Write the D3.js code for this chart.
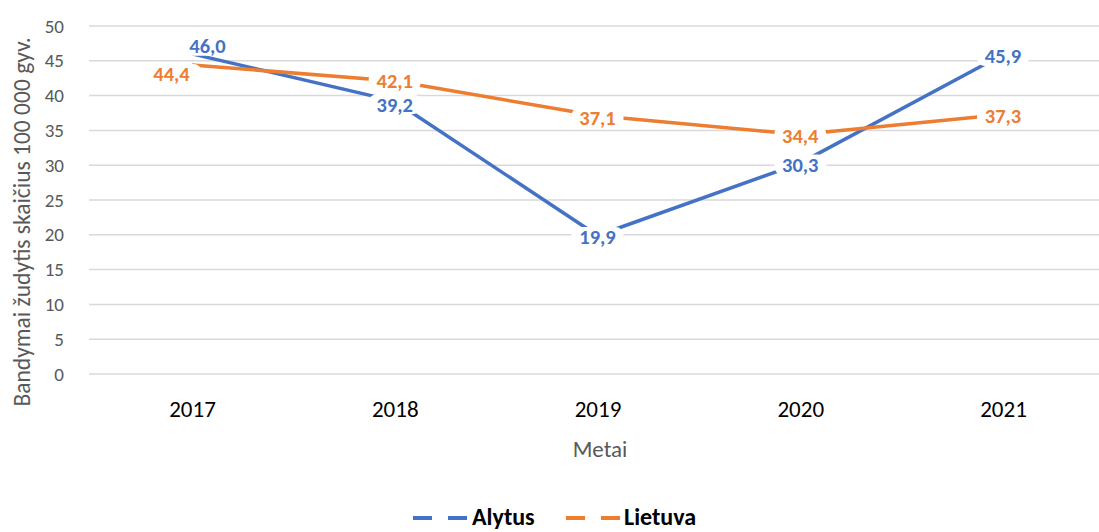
<!DOCTYPE html>
<html><head><meta charset="utf-8">
<script src="https://cdn.jsdelivr.net/npm/d3@7"></script>
<style>body{margin:0;background:#fff}svg{display:block}text{font-family:Carlito,Lato,"Open Sans",sans-serif}</style>
</head><body>
<svg id="c" width="1099" height="532"></svg>
<script>
const years = ["2017","2018","2019","2020","2021"];
const alytus = [46.0, 39.2, 19.9, 30.3, 45.9];
const lietuva = [44.4, 42.1, 37.1, 34.4, 37.3];
const yTicks = [0,5,10,15,20,25,30,35,40,45,50];
const seriesNames = ["Alytus","Lietuva"];
const colors = ["#4472C4","#ED7D31"];

const svg = d3.select("#c");
const x = d3.scalePoint().domain(years).range([192, 1003]);
const y = d3.scaleLinear().domain([0,50]).range([374, 26]);
const FF = "Carlito,Lato,sans-serif";

// gridlines
svg.append("g").selectAll("line").data(yTicks).join("line")
  .attr("x1", 89).attr("x2", 1105)
  .attr("y1", d=>y(d)).attr("y2", d=>y(d))
  .attr("stroke","#d9d9d9").attr("stroke-width",1.5);

// y axis labels
const ya = svg.append("g").attr("transform","translate(64,0)")
  .call(d3.axisLeft(y).tickValues(yTicks).tickSize(0).tickPadding(0));
ya.select(".domain").remove();
ya.selectAll("text").attr("font-size",19).attr("fill","#595959").style("font-family",FF);

// x axis labels
const xa = svg.append("g").attr("transform","translate(0,417)")
  .call(d3.axisBottom(x).tickSize(0).tickPadding(0));
xa.select(".domain").remove();
xa.selectAll("text").attr("font-size",23).attr("fill","#000").attr("y",0).attr("dy",null).style("font-family",FF);

// titles
svg.append("text").attr("x",600).attr("y",457).attr("text-anchor","middle")
  .attr("font-size",23).attr("fill","#595959").text("Metai");
svg.append("text").attr("transform","translate(30,222) rotate(-90)").attr("text-anchor","middle")
  .attr("font-size",23.5).attr("fill","#595959").text("Bandymai žudytis skaičius 100 000 gyv.");

// lines
const line = d3.line().x((d,i)=>x(years[i])).y(d=>y(d));
[alytus, lietuva].forEach((s,k)=>{
  svg.append("path").datum(s).attr("d",line).attr("fill","none")
    .attr("stroke",colors[k]).attr("stroke-width",3.5).attr("stroke-linejoin","round");
});

// labels
const fmt = v => v.toFixed(1).replace(".",",");
const offsets = [
  [[15.5,-8],[0,3],[0,1.5],[0,1.5],[0,1.5]],
  [[-20.5,9],[0,-0.5],[0,1.5],[0,1.5],[0,1.5]]
];
const bg = svg.append("g"), fg = svg.append("g");
[alytus, lietuva].forEach((s,k)=>{
  s.forEach((v,i)=>{
    const cx = x(years[i]) + offsets[k][i][0];
    const cy = y(v) + offsets[k][i][1];
    const w = (k===1&&i===0) ? 60 : 52;
    bg.append("rect").attr("x",cx-w/2).attr("y",cy-10).attr("width",w).attr("height",20)
      .attr("rx",8).attr("fill","#fff");
    fg.append("text").attr("x",cx).attr("y",cy).attr("dy","0.36em").attr("text-anchor","middle")
      .attr("font-size",20.5).attr("font-weight","bold").attr("fill",colors[k]).text(fmt(v));
  });
});

// legend
const leg = [{x:413, tx:472},{x:566, tx:624}];
seriesNames.forEach((n,k)=>{
  const l = leg[k];
  svg.append("line").attr("x1",l.x).attr("x2",l.x+55).attr("y1",518).attr("y2",518)
    .attr("stroke",colors[k]).attr("stroke-width",4).attr("stroke-dasharray","19,16");
  svg.append("text").attr("x",l.tx).attr("y",525).attr("font-size",24).attr("font-weight","bold")
    .attr("fill","#000").text(n);
});
</script>
</body></html>
